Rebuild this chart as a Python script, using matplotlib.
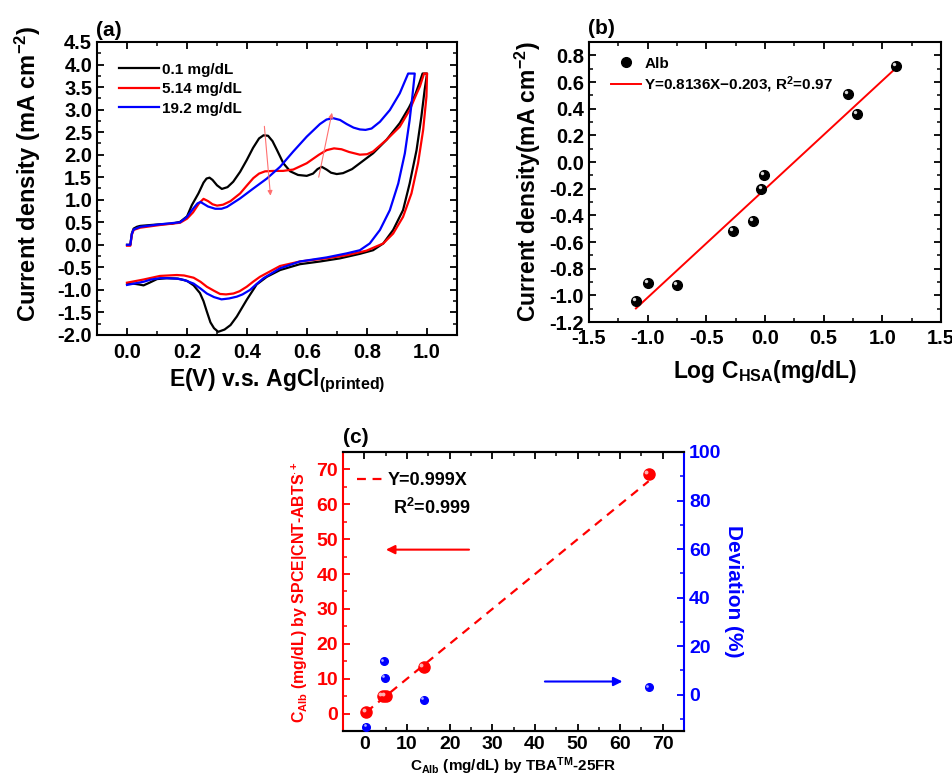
import numpy as np
import matplotlib
matplotlib.use('Agg')
import matplotlib.pyplot as plt
from matplotlib.ticker import MultipleLocator, FormatStrFormatter
from matplotlib.transforms import ScaledTranslation

plt.rcParams['font.family'] = ['Liberation Sans', 'DejaVu Sans']
plt.rcParams['font.weight'] = 'bold'
plt.rcParams['axes.labelweight'] = 'bold'
plt.rcParams['axes.unicode_minus'] = False
plt.rcParams['mathtext.fontset'] = 'custom'
plt.rcParams['mathtext.rm'] = 'Liberation Sans:bold'
plt.rcParams['mathtext.it'] = 'Liberation Sans:bold'
plt.rcParams['mathtext.bf'] = 'Liberation Sans:bold'
plt.rcParams['xtick.direction'] = 'in'
plt.rcParams['ytick.direction'] = 'in'
plt.rcParams['axes.linewidth'] = 1.5

# (a) cyclic voltammograms, forward scan then reverse scan
e_01 = [0.0, 0.011, 0.016, 0.022, 0.033, 0.044, 0.08, 0.11, 0.15, 0.177, 0.2, 0.216,
        0.238, 0.255, 0.265, 0.275, 0.285, 0.3, 0.316, 0.335, 0.354, 0.377, 0.399, 0.42,
        0.44, 0.455, 0.47, 0.485, 0.5, 0.521, 0.544, 0.57, 0.599, 0.62, 0.635, 0.649,
        0.665, 0.68, 0.699, 0.72, 0.75, 0.776, 0.82, 0.865, 0.909, 0.94, 0.96, 0.975,
        0.985, 1.0,
        0.992, 0.981, 0.965, 0.942, 0.92, 0.887, 0.854, 0.82, 0.776, 0.71, 0.643, 0.576,
        0.51, 0.466, 0.432, 0.399, 0.366, 0.345, 0.325, 0.304, 0.29, 0.278, 0.266, 0.255,
        0.243, 0.222, 0.2, 0.17, 0.133, 0.1, 0.075, 0.055, 0.04, 0.02, 0.0]
j_01 = [0.0, 0.0, 0.25, 0.36, 0.40, 0.42, 0.44, 0.455, 0.47, 0.51, 0.63, 0.88,
        1.14, 1.38, 1.47, 1.49, 1.44, 1.32, 1.24, 1.28, 1.40, 1.62, 1.88, 2.15,
        2.36, 2.43, 2.42, 2.30, 2.10, 1.81, 1.63, 1.55, 1.53, 1.58, 1.68, 1.73,
        1.67, 1.60, 1.57, 1.59, 1.68, 1.81, 2.03, 2.33, 2.70, 3.05, 3.32, 3.60,
        3.80, 3.80,
        3.44, 2.84, 2.10, 1.36, 0.77, 0.33, 0.03, -0.12, -0.20, -0.30, -0.37, -0.43,
        -0.56, -0.71, -0.88, -1.22, -1.59, -1.78, -1.88, -1.93, -1.85, -1.72, -1.48, -1.25,
        -1.07, -0.90, -0.80, -0.75, -0.74, -0.76, -0.84, -0.90, -0.88, -0.86, -0.86]

e_514 = [0.0, 0.011, 0.016, 0.022, 0.044, 0.11, 0.177, 0.2, 0.22, 0.24, 0.255, 0.27,
         0.285, 0.30, 0.32, 0.345, 0.377, 0.40, 0.421, 0.44, 0.46, 0.49, 0.52, 0.554,
         0.599, 0.64, 0.665, 0.69, 0.715, 0.74, 0.776, 0.80, 0.82, 0.865, 0.909, 0.942,
         0.965, 0.976, 0.99, 1.0,
         0.998, 0.987, 0.97, 0.948, 0.92, 0.887, 0.854, 0.798, 0.732, 0.665, 0.576, 0.51,
         0.443, 0.42, 0.399, 0.375, 0.355, 0.33, 0.31, 0.29, 0.266, 0.245, 0.222, 0.19,
         0.166, 0.11, 0.055, 0.0]
j_514 = [-0.02, -0.02, 0.22, 0.33, 0.38, 0.44, 0.49, 0.58, 0.72, 0.92, 1.02, 0.97,
         0.90, 0.87, 0.89, 0.97, 1.14, 1.32, 1.48, 1.58, 1.63, 1.64, 1.64, 1.67,
         1.81, 2.00, 2.10, 2.14, 2.12, 2.06, 2.00, 2.01, 2.07, 2.33, 2.62, 2.99,
         3.35, 3.51, 3.80, 3.80,
         3.29, 2.55, 1.81, 1.14, 0.62, 0.25, 0.03, -0.13, -0.23, -0.30, -0.37, -0.47,
         -0.71, -0.82, -0.93, -1.03, -1.08, -1.10, -1.09, -1.02, -0.93, -0.82, -0.73, -0.68,
         -0.67, -0.69, -0.77, -0.84]

e_192 = [0.0, 0.011, 0.016, 0.022, 0.044, 0.11, 0.177, 0.2, 0.22, 0.235, 0.245, 0.255,
         0.27, 0.294, 0.315, 0.333, 0.377, 0.421, 0.466, 0.51, 0.554, 0.599, 0.643, 0.665,
         0.687, 0.71, 0.732, 0.755, 0.776, 0.795, 0.815, 0.843, 0.876, 0.909, 0.937, 0.959,
         0.951, 0.942, 0.926, 0.904, 0.876, 0.843, 0.809, 0.776, 0.732, 0.665, 0.576, 0.51,
         0.455, 0.43, 0.41, 0.385, 0.366, 0.34, 0.315, 0.29, 0.266, 0.245, 0.222, 0.19,
         0.166, 0.13, 0.11, 0.08, 0.055, 0.0]
j_192 = [0.0, 0.0, 0.24, 0.34, 0.40, 0.455, 0.50, 0.62, 0.80, 0.92, 0.95, 0.91,
         0.85, 0.80, 0.80, 0.84, 1.03, 1.25, 1.47, 1.73, 2.07, 2.40, 2.68, 2.78,
         2.81, 2.77, 2.68, 2.60, 2.56, 2.55, 2.58, 2.73, 2.99, 3.36, 3.80, 3.80,
         3.29, 2.77, 2.03, 1.36, 0.77, 0.33, 0.03, -0.12, -0.19, -0.28, -0.37, -0.52,
         -0.74, -0.88, -1.00, -1.10, -1.15, -1.19, -1.21, -1.16, -1.08, -0.97, -0.86, -0.78,
         -0.75, -0.74, -0.74, -0.77, -0.82, -0.89]

cv_labels = ['0.1 mg/dL', '5.14 mg/dL', '19.2 mg/dL']
cv_colors = ['black', 'red', 'blue']

# (b) calibration
log_c = [-1.1, -1.0, -0.75, -0.27, -0.1, -0.03, -0.01, 0.71, 0.78, 1.12]
j_b = [-1.04, -0.91, -0.92, -0.52, -0.44, -0.20, -0.10, 0.51, 0.36, 0.72]
slope_b = 0.8136
icpt_b = -0.203

# (c) method comparison
ref_c = [0.4, 4.3, 5.0, 13.9, 66.7]
sens_c = [0.4, 4.9, 5.0, 13.4, 68.7]
dev_x = [0.4, 4.5, 4.8, 13.9, 66.7]
dev_c = [-13.2, 13.8, 7.0, -2.1, 3.0]
slope_c = 0.999


def style_ticks(ax, size=14.5):
    ax.tick_params(which='major', length=5, width=1.3, labelsize=size)
    ax.tick_params(which='minor', length=3, width=1.1)


def balls(ax, x, y, color, light, ms):
    ax.plot(x, y, 'o', color=color, ms=ms, mec=color, zorder=3, clip_on=False)
    shift = ax.transData + ScaledTranslation(-ms * 0.2 / 72, ms * 0.2 / 72,
                                             ax.figure.dpi_scale_trans)
    ax.plot(x, y, 'o', color=light, ms=ms * 0.35, mec='none', transform=shift,
            zorder=4, clip_on=False)


fig = plt.figure(figsize=(9.53, 7.79), dpi=100)

# ---------- (a)
ax1 = fig.add_axes([0.1018, 0.570, 0.3778, 0.3761])
for e, j, lab, col in zip([e_01, e_514, e_192], [j_01, j_514, j_192], cv_labels, cv_colors):
    ax1.plot(e, j, color=col, lw=1.6, label=lab)
arr = dict(arrowstyle='-|>', color='#ff7070', lw=0.8, mutation_scale=7)
ax1.annotate('', xy=(0.479, 1.03), xytext=(0.457, 2.69), arrowprops=arr)
ax1.annotate('', xy=(0.685, 2.99), xytext=(0.637, 1.44), arrowprops=arr)
ax1.set_xlim(-0.1, 1.1)
ax1.set_ylim(-2.0, 4.5)
ax1.xaxis.set_major_locator(MultipleLocator(0.2))
ax1.xaxis.set_minor_locator(MultipleLocator(0.1))
ax1.yaxis.set_major_locator(MultipleLocator(0.5))
ax1.yaxis.set_minor_locator(MultipleLocator(0.25))
ax1.xaxis.set_major_formatter(FormatStrFormatter('%.1f'))
ax1.yaxis.set_major_formatter(FormatStrFormatter('%.1f'))
ax1.tick_params(which='both', top=True, right=True)
style_ticks(ax1)
ax1.tick_params(axis='x', pad=6)
ax1.set_xlabel(r'E(V) v.s. AgCl$_{\mathregular{(printed)}}$', fontsize=16.5, labelpad=3)
ax1.set_ylabel(r'Current density (mA cm$^{-2}$)', fontsize=17)
ax1.yaxis.set_label_coords(-0.15, 0.55)
ax1.legend(loc='upper left', bbox_to_anchor=(0.04, 0.955), frameon=False, fontsize=11,
           handlelength=2.6, handletextpad=0.2, labelspacing=0.35, borderpad=0)
fig.text(96 / 953, 1 - 31 / 779, '(a)', fontsize=15, va='center', ha='left')

# ---------- (b)
ax2 = fig.add_axes([0.618, 0.5866, 0.3694, 0.3594])
xfit = np.array([min(log_c), max(log_c)])
balls(ax2, log_c, j_b, 'black', '#d9d9d9', 7)
ax2.plot([], [], 'o', color='black', ms=7, label='Alb')
ax2.plot(xfit, slope_b * xfit + icpt_b, color='red', lw=1.4,
         label=r'Y=0.8136X$-$0.203, R$^2$=0.97')
ax2.set_xlim(-1.5, 1.5)
ax2.set_ylim(-1.2, 0.9)
ax2.xaxis.set_major_locator(MultipleLocator(0.5))
ax2.xaxis.set_minor_locator(MultipleLocator(0.25))
ax2.yaxis.set_major_locator(MultipleLocator(0.2))
ax2.yaxis.set_minor_locator(MultipleLocator(0.1))
ax2.xaxis.set_major_formatter(FormatStrFormatter('%.1f'))
ax2.yaxis.set_major_formatter(FormatStrFormatter('%.1f'))
ax2.tick_params(which='both', top=True, right=True)
style_ticks(ax2)
ax2.tick_params(axis='x', pad=5)
ax2.set_xlabel(r'Log C$_{\mathregular{HSA}}$(mg/dL)', fontsize=16.5, labelpad=7)
ax2.set_ylabel(r'Current density(mA cm$^{-2}$)', fontsize=16.5, labelpad=5)
ax2.legend(loc='upper left', bbox_to_anchor=(0.04, 0.975), frameon=False, fontsize=11,
           handlelength=2.0, handletextpad=0.2, labelspacing=0.25, borderpad=0)
fig.text(588 / 953, 1 - 29 / 779, '(b)', fontsize=15, va='center', ha='left')

# ---------- (c)
ax3 = fig.add_axes([0.36, 0.0616, 0.3578, 0.3582])
ax3r = ax3.twinx()
xc = np.array([min(ref_c), max(ref_c)])
ax3.plot(xc, slope_c * xc, '--', color='red', lw=1.6, dashes=(4, 3), label='Y=0.999X')
balls(ax3, ref_c, sens_c, 'red', '#ffb0b0', 8)
balls(ax3r, dev_x, dev_c, 'blue', '#b0b0ff', 5.5)
ax3.annotate('', xy=(4.4, 47), xytext=(25.2, 47),
             arrowprops=dict(arrowstyle='-|>', color='red', lw=1.5, mutation_scale=13))
ax3r.annotate('', xy=(61.2, 5.4), xytext=(41.7, 5.4),
              arrowprops=dict(arrowstyle='-|>', color='blue', lw=1.5, mutation_scale=13))
ax3.set_xlim(-5, 75)
ax3.set_ylim(-5, 75)
ax3r.set_ylim(-15, 100)
ax3.xaxis.set_major_locator(MultipleLocator(10))
ax3.xaxis.set_minor_locator(MultipleLocator(5))
ax3.yaxis.set_major_locator(MultipleLocator(10))
ax3.yaxis.set_minor_locator(MultipleLocator(5))
ax3r.yaxis.set_major_locator(MultipleLocator(20))
ax3r.yaxis.set_minor_locator(MultipleLocator(10))
ax3.tick_params(which='both', top=True, right=False)
style_ticks(ax3, 14)
style_ticks(ax3r, 14)
ax3.tick_params(axis='y', which='both', colors='red')
ax3r.tick_params(axis='y', which='both', colors='blue')
ax3.spines['left'].set_color('red')
ax3r.spines['left'].set_visible(False)
ax3.spines['right'].set_visible(False)
ax3r.spines['right'].set_color('blue')
ax3.set_xlabel(r'C$_{\mathregular{Alb}}$ (mg/dL) by TBA$^{\mathregular{TM}}$-25FR',
               fontsize=11, labelpad=2)
ax3.set_ylabel(r'C$_{\mathregular{Alb}}$ (mg/dL) by SPCE|CNT-ABTS$^{\cdot+}$',
               fontsize=11.4, color='red', labelpad=5)
ax3r.set_ylabel('Deviation (%)', fontsize=15, color='blue', rotation=270,
                va='bottom', labelpad=2)
ax3.legend(loc='upper left', bbox_to_anchor=(0.015, 0.96), frameon=False, fontsize=13,
           handlelength=1.4, handletextpad=0.3, borderpad=0)
ax3.text(0.145, 0.80, r'R$^2$=0.999', transform=ax3.transAxes, fontsize=13,
         va='center', ha='left')
fig.text(343 / 953, 1 - 437 / 779, '(c)', fontsize=15, va='center', ha='left')

fig.savefig('out.png', dpi=100)
